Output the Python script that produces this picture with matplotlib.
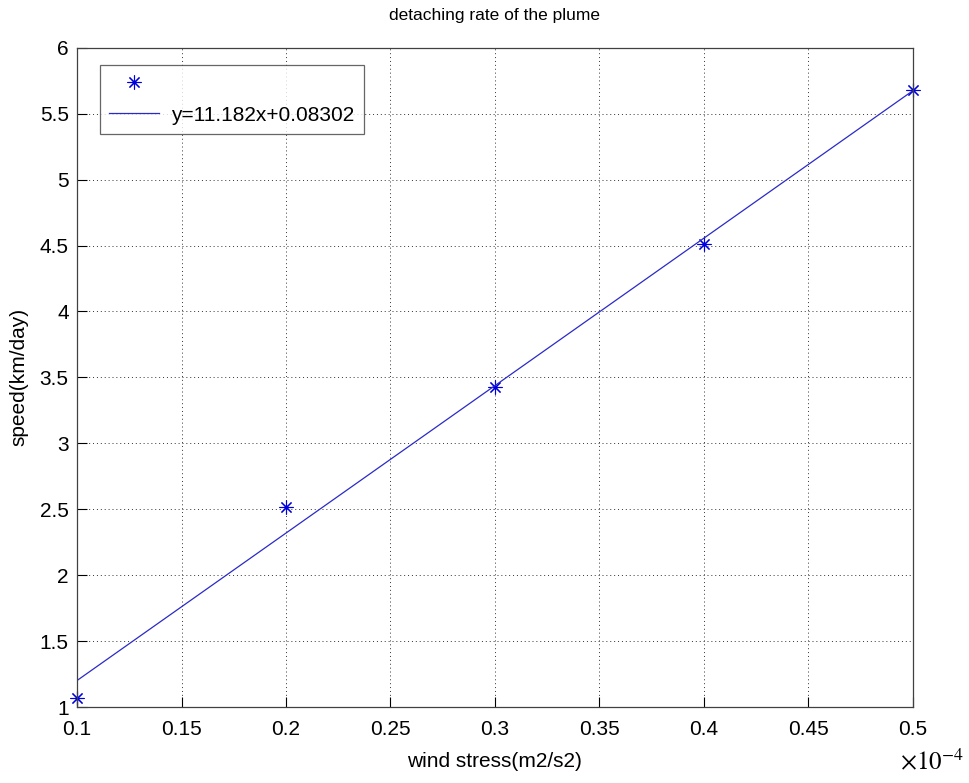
import numpy as np
import matplotlib
matplotlib.use('Agg')
from matplotlib import pyplot as plt

plt.rcParams['font.family'] = ['Liberation Sans', 'DejaVu Sans']

# wind stress in units of 1e-4 m2/s2
stress = [0.1, 0.2, 0.3, 0.4, 0.5]
speed = [1.07, 2.52, 3.43, 4.51, 5.68]
slope = 11.182
intercept = 0.08302
xticks = [0.1, 0.15, 0.2, 0.25, 0.3, 0.35, 0.4, 0.45, 0.5]
yticks = [1, 1.5, 2, 2.5, 3, 3.5, 4, 4.5, 5, 5.5, 6]

fig = plt.figure(figsize=(9.69, 7.83), dpi=100)
ax = fig.add_axes([0.0795, 0.097, 0.8625, 0.842])

fit_x = np.array([stress[0], stress[-1]])
ax.plot(stress, speed, linestyle='none', marker=(8, 2, 0), color='#0000dd',
        markersize=10, markeredgewidth=0.8, label=' ', clip_on=False)
ax.plot(fit_x, slope * fit_x + intercept, '-', color='#2a2ac8', linewidth=0.9,
        label='y=11.182x+0.08302')

ax.set_xlim(0.1, 0.5)
ax.set_ylim(1, 6)
ax.set_xticks(xticks)
ax.set_xticklabels(['%g' % t for t in xticks])
ax.set_yticks(yticks)
ax.set_yticklabels(['%g' % t for t in yticks])
ax.tick_params(direction='in', labelsize=15, length=7, width=0.8)
ax.tick_params(axis='x', pad=9)
ax.tick_params(axis='y', pad=6)
ax.grid(True, linestyle=(0, (1, 3)), color='#333333', linewidth=0.7)
for s in ax.spines.values():
    s.set_color('#404040')
    s.set_linewidth(0.9)

ax.set_title('detaching rate of the plume', fontsize=12.5, pad=20)
ax.set_xlabel('wind stress(m2/s2)', fontsize=15, labelpad=10)
ax.set_ylabel('speed(km/day)', fontsize=15, labelpad=8)

fig.text(0.929, 0.018, r'$\times10^{-4}$', fontsize=18, math_fontfamily='stix')

leg = ax.legend(loc='upper left', bbox_to_anchor=(0.027, 0.974), fontsize=15,
                frameon=True, fancybox=False, handlelength=2.4, handletextpad=0.6,
                borderpad=0.45, labelspacing=0.6, borderaxespad=0)
leg.get_frame().set_edgecolor('#404040')
leg.get_frame().set_linewidth(0.9)

plt.savefig('out.png', dpi=100)
